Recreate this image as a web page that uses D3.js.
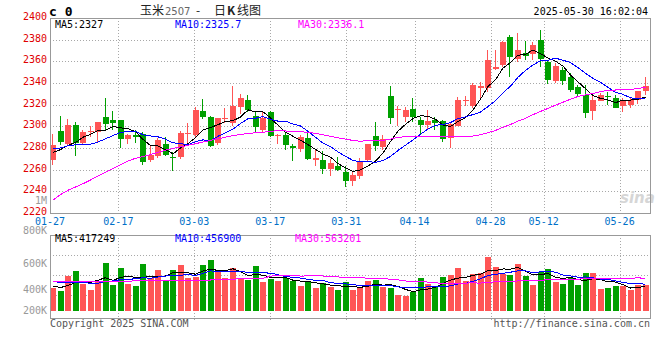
<!DOCTYPE html>
<html lang="zh">
<head>
<meta charset="UTF-8">
<title>玉米2507 - 日K线图</title>
<script src="https://d3js.org/d3.v7.min.js"></script>
<style>
    body { margin: 0; background: #fff; }
    svg { display: block; }
    text { font-family: "DejaVu Sans Mono", monospace; font-size: 10px; }
    .grid { stroke: #a8a8a8; stroke-dasharray: 1,2; shape-rendering: crispEdges; }
    .frame { fill: none; stroke: #999; shape-rendering: crispEdges; }
    .ma { fill: none; stroke-width: 1; shape-rendering: crispEdges; }
</style>
</head>
<body>
<svg width="660" height="360"></svg>
<script>
// trading days shown on the chart
const dates = ("01-27 02-05 02-06 02-07 02-10 02-11 02-12 02-13 02-14 02-17 02-18 02-19 02-20 02-21 02-24 02-25 02-26 02-27 02-28 " +
    "03-03 03-04 03-05 03-06 03-07 03-10 03-11 03-12 03-13 03-14 03-17 03-18 03-19 03-20 03-21 03-24 03-25 03-26 03-27 03-28 03-31 " +
    "04-01 04-02 04-03 04-07 04-08 04-09 04-10 04-11 04-14 04-15 04-16 04-17 04-18 04-21 04-22 04-23 04-24 04-25 04-28 04-29 04-30 " +
    "05-06 05-07 05-08 05-09 05-12 05-13 05-14 05-15 05-16 05-19 05-20 05-21 05-22 05-23 05-26 05-27 05-28 05-29 05-30").split(" ");
const tickDates = ["01-27", "02-17", "03-03", "03-17", "03-31", "04-14", "04-28", "05-12", "05-26"];

const opens = [2269, 2296, 2284, 2301, 2285, 2295, 2295, 2309, 2306, 2306,
    2288, 2292, 2293, 2269, 2273, 2284, 2272, 2272, 2293, 2292,
    2314, 2309, 2285, 2307, 2303, 2318, 2324, 2310, 2297, 2313,
    2291, 2292, 2282, 2279, 2289, 2269, 2269, 2261, 2263, 2258,
    2250, 2254, 2269, 2291, 2281, 2328, 2315, 2309, 2316, 2306,
    2301, 2306, 2305, 2289, 2300, 2323, 2319, 2335, 2335, 2353,
    2357, 2382, 2362, 2368, 2367, 2380, 2359, 2342, 2352, 2346,
    2336, 2329, 2314, 2323, 2328, 2326, 2319, 2320, 2324, 2333];
const highs = [2293, 2310, 2307, 2304, 2297, 2300, 2304, 2326, 2314, 2306,
    2293, 2297, 2295, 2283, 2289, 2290, 2276, 2296, 2303, 2318,
    2325, 2310, 2308, 2317, 2337, 2330, 2329, 2313, 2314, 2314,
    2293, 2295, 2284, 2292, 2294, 2279, 2277, 2270, 2272, 2263,
    2258, 2271, 2284, 2304, 2292, 2337, 2319, 2318, 2326, 2309,
    2315, 2309, 2306, 2303, 2327, 2328, 2340, 2341, 2370, 2370,
    2379, 2384, 2386, 2379, 2378, 2389, 2360, 2358, 2355, 2349,
    2338, 2338, 2328, 2331, 2332, 2329, 2326, 2327, 2333, 2346];
const lows = [2264, 2283, 2282, 2273, 2284, 2290, 2286, 2297, 2297, 2280,
    2284, 2285, 2264, 2267, 2271, 2273, 2259, 2270, 2283, 2290,
    2307, 2281, 2283, 2303, 2300, 2311, 2313, 2294, 2294, 2290,
    2284, 2278, 2268, 2276, 2269, 2263, 2256, 2254, 2259, 2244,
    2245, 2251, 2268, 2277, 2278, 2302, 2300, 2304, 2304, 2292,
    2297, 2297, 2286, 2280, 2300, 2319, 2317, 2324, 2332, 2352,
    2355, 2346, 2359, 2361, 2361, 2355, 2339, 2340, 2338, 2332,
    2328, 2308, 2306, 2323, 2320, 2317, 2313, 2317, 2321, 2329];
const closes = [2283, 2286, 2301, 2285, 2295, 2296, 2304, 2302, 2303, 2288,
    2292, 2290, 2267, 2274, 2287, 2274, 2271, 2294, 2294, 2315,
    2309, 2282, 2308, 2308, 2319, 2326, 2315, 2299, 2308, 2291,
    2292, 2283, 2280, 2290, 2270, 2271, 2261, 2266, 2260, 2250,
    2255, 2268, 2284, 2282, 2288, 2308, 2316, 2315, 2309, 2301,
    2305, 2303, 2288, 2302, 2324, 2324, 2338, 2337, 2361, 2355,
    2378, 2364, 2370, 2365, 2375, 2362, 2343, 2356, 2342, 2334,
    2330, 2312, 2324, 2329, 2327, 2317, 2324, 2324, 2333, 2337];
const volumes = [389000, 343000, 600000, 681000, 470000, 360000, 521000, 818000, 441000, 732000,
    458000, 424000, 801000, 561000, 698000, 515000, 698000, 784000, 573000, 578000,
    784000, 870000, 659000, 561000, 732000, 544000, 527000, 767000, 492000, 552000,
    509000, 561000, 518000, 424000, 518000, 389000, 475000, 412000, 355000, 492000,
    355000, 412000, 509000, 527000, 412000, 389000, 269000, 252000, 326000, 561000,
    470000, 424000, 578000, 612000, 732000, 509000, 629000, 652000, 926000, 749000,
    641000, 612000, 801000, 595000, 441000, 659000, 715000, 492000, 458000, 573000,
    441000, 647000, 647000, 372000, 389000, 424000, 424000, 355000, 441000, 441000];

// moving-average values before a full window is available
const ma5Head = [2276, 2278.5, 2282.5, 2285];
const ma10Head = [2279, 2280, 2282, 2283, 2283, 2283.5, 2285.5, 2288.5, 2291.5];
const ma30Head = [2232, 2237, 2241, 2244, 2247, 2250.5, 2254, 2257.5, 2261, 2264.5,
    2268, 2270.5, 2272, 2274, 2276, 2278, 2279.5, 2281, 2282.5, 2284,
    2285.5, 2287, 2288.5, 2290, 2291.5, 2292.5, 2293.5, 2294, 2294.5];
const vma5Head = [429000, 401000, 436000, 487000];
const vma10Head = [501000, 492000, 487000, 487000, 487000, 475000, 475000, 504000, 515000];
const vma30Head = [501000, 501000, 501000, 502000, 502000, 503000, 503000, 505000, 508000, 510000,
    512000, 514000, 515000, 516000, 517000, 518000, 520000, 522000, 524000, 526000,
    527000, 530000, 533000, 537000, 545000, 550000, 553000, 556000, 558000];

// values printed in the legends
const priceMaLast = [2327, 2325.7, 2336.1];
const volMaLast = [417249, 456900, 563201];
const priceTicks = [2220, 2240, 2260, 2280, 2300, 2320, 2340, 2360, 2380, 2400];
const volTicks = [200000, 400000, 600000, 800000];

const RED = "#ff5555", GREEN = "#00a000";
const maColors = ["#000000", "#0000ff", "#ff00ff"];

function movingAvg(values, n, head) {
    return values.map((v, i) => i < n - 1 ? head[i] : d3.mean(values.slice(i - n + 1, i + 1)));
}

const svg = d3.select("svg");
const left = 50, right = 650;
const pTop = 18, pBottom = 213;
const vTop = 235, vBottom = 318;

const xSlot = d3.scaleLinear().domain([0, dates.length]).range([left, right]);
const xGrid = d3.scaleLinear().domain([0, dates.length - 1]).range([left, right]);
const y = d3.scaleLinear().domain([2220, 2400]).range([pBottom, pTop]);
const yv = d3.scaleLinear().domain([0, 1300000]).range([311, vTop]);
// volume axis labels sit at uneven heights in the original
const yvLabel = d3.scaleLinear().domain(volTicks).range([314, 293, 267, 234]);

const tickIdx = tickDates.map(d => dates.indexOf(d));
const up = i => closes[i] >= opens[i];

// ---- price panel grid ----
svg.append("g").selectAll("line")
    .data(priceTicks.slice(1, -1))
    .join("line")
    .attr("class", "grid")
    .attr("x1", left).attr("x2", right)
    .attr("y1", d => Math.round(y(d)) + 0.5).attr("y2", d => Math.round(y(d)) + 0.5);

svg.append("g").selectAll("line")
    .data(tickIdx.slice(1))
    .join("line")
    .attr("class", "grid")
    .attr("x1", d => Math.round(xGrid(d)) + 0.5).attr("x2", d => Math.round(xGrid(d)) + 0.5)
    .attr("y1", pTop).attr("y2", pBottom);

// price labels
svg.append("g").selectAll("text")
    .data(priceTicks)
    .join("text")
    .attr("x", 47)
    .attr("y", d => y(d) + 2)
    .attr("text-anchor", "end")
    .attr("fill", "#e00000")
    .text(d => d);

svg.append("text").attr("x", 47).attr("y", 204).attr("text-anchor", "end")
    .attr("fill", "#999").text("1M");

// date labels
svg.append("g").selectAll("text")
    .data(tickIdx)
    .join("text")
    .attr("x", d => xGrid(d))
    .attr("y", 225)
    .attr("text-anchor", "middle")
    .attr("fill", "#0070c8")
    .text(d => dates[d]);

// watermark
svg.append("text").attr("x", 620).attr("y", 203)
    .style("font-family", "'DejaVu Sans', sans-serif").style("font-size", "15px")
    .style("font-weight", "bold").style("font-style", "italic")
    .attr("fill", "#d6d6d6").text("sina");

// ---- candles ----
const candles = svg.append("g").selectAll("g")
    .data(dates.map((d, i) => i))
    .join("g")
    .attr("fill", i => up(i) ? RED : GREEN);

candles.append("rect")
    .attr("x", i => Math.round(xSlot(i)) + 2)
    .attr("width", 1)
    .attr("y", i => Math.round(y(highs[i])))
    .attr("height", i => Math.max(1, Math.round(y(lows[i])) - Math.round(y(highs[i]))));

candles.append("rect")
    .attr("x", i => Math.round(xSlot(i)))
    .attr("width", 6)
    .attr("y", i => Math.round(y(Math.max(opens[i], closes[i]))))
    .attr("height", i => Math.max(1, Math.round(y(Math.min(opens[i], closes[i]))) - Math.round(y(Math.max(opens[i], closes[i])))));

// ---- price moving averages ----
const priceMAs = [movingAvg(closes, 5, ma5Head), movingAvg(closes, 10, ma10Head), movingAvg(closes, 30, ma30Head)];
const priceLine = d3.line().x((d, i) => xSlot(i) + 3).y(d => y(d));
svg.append("g").selectAll("path")
    .data(priceMAs)
    .join("path")
    .attr("class", "ma")
    .attr("stroke", (d, k) => maColors[k])
    .attr("d", priceLine);

svg.append("rect").attr("class", "frame")
    .attr("x", left + 0.5).attr("y", pTop + 0.5)
    .attr("width", right - left).attr("height", pBottom - pTop);

// legends
const priceLegX = [55, 175, 298];
svg.append("g").selectAll("text")
    .data(priceMaLast)
    .join("text")
    .attr("x", (d, k) => priceLegX[k])
    .attr("y", 28)
    .attr("fill", (d, k) => maColors[k])
    .text((d, k) => "MA" + [5, 10, 30][k] + ":" + d);

// ---- header ----
const title = svg.append("text").attr("y", 15)
    .style("font-family", "'Noto Sans CJK SC', sans-serif").style("font-size", "12px");
title.append("tspan").attr("x", 140).attr("fill", "#222").text("玉米");
title.append("tspan").attr("x", 165).attr("fill", "#666")
    .style("font-family", "'DejaVu Sans', sans-serif").style("font-size", "10px").text("2507");
title.append("tspan").attr("x", 196).attr("fill", "#222").text("-");
title.append("tspan").attr("x", 214).attr("fill", "#222").text("日");
title.append("tspan").attr("x", 227).attr("fill", "#222").style("font-weight", "bold").text("K");
title.append("tspan").attr("x", 237).attr("fill", "#222").text("线图");

svg.append("text").attr("x", 49).attr("y", 16)
    .style("font-size", "13px").style("font-weight", "bold").text("c 0");
svg.append("text").attr("x", 648).attr("y", 15).attr("text-anchor", "end")
    .attr("fill", "#000").text("2025-05-30 16:02:04");

// ---- volume panel ----
svg.append("g").selectAll("line")
    .data(d3.range(1, 4))
    .join("line")
    .attr("class", "grid")
    .attr("x1", left).attr("x2", right)
    .attr("y1", k => vTop + k * 20 + 0.5).attr("y2", k => vTop + k * 20 + 0.5);

svg.append("g").selectAll("line")
    .data(tickIdx.slice(1))
    .join("line")
    .attr("class", "grid")
    .attr("x1", d => Math.round(xGrid(d)) + 0.5).attr("x2", d => Math.round(xGrid(d)) + 0.5)
    .attr("y1", vTop).attr("y2", vBottom + 2);

svg.append("g").selectAll("rect")
    .data(volumes)
    .join("rect")
    .attr("x", (d, i) => Math.round(xSlot(i)))
    .attr("width", 6)
    .attr("y", d => Math.round(yv(d)))
    .attr("height", d => Math.round(yv(0)) - Math.round(yv(d)))
    .attr("fill", (d, i) => up(i) ? RED : GREEN);

const volMAs = [movingAvg(volumes, 5, vma5Head), movingAvg(volumes, 10, vma10Head), movingAvg(volumes, 30, vma30Head)];
const volLine = d3.line().x((d, i) => xSlot(i) + 3).y(d => yv(d));
svg.append("g").selectAll("path")
    .data(volMAs)
    .join("path")
    .attr("class", "ma")
    .attr("stroke", (d, k) => maColors[k])
    .attr("d", volLine);

svg.append("rect").attr("class", "frame")
    .attr("x", left + 0.5).attr("y", vTop + 0.5)
    .attr("width", right - left).attr("height", vBottom - vTop);

svg.append("g").selectAll("text")
    .data(volTicks)
    .join("text")
    .attr("x", 47)
    .attr("y", d => yvLabel(d))
    .attr("text-anchor", "end")
    .attr("fill", "#999")
    .text(d => (d / 1000) + "K");

const volLegX = [55, 175, 295];
svg.append("g").selectAll("text")
    .data(volMaLast)
    .join("text")
    .attr("x", (d, k) => volLegX[k])
    .attr("y", 242)
    .attr("fill", (d, k) => maColors[k])
    .text((d, k) => "MA" + [5, 10, 30][k] + ":" + d);

svg.append("text").attr("x", 50).attr("y", 327).attr("fill", "#555").text("Copyright 2025 SINA.COM");
svg.append("text").attr("x", 650).attr("y", 327).attr("text-anchor", "end")
    .attr("fill", "#555").text("http://finance.sina.com.cn");
</script>
</body>
</html>
